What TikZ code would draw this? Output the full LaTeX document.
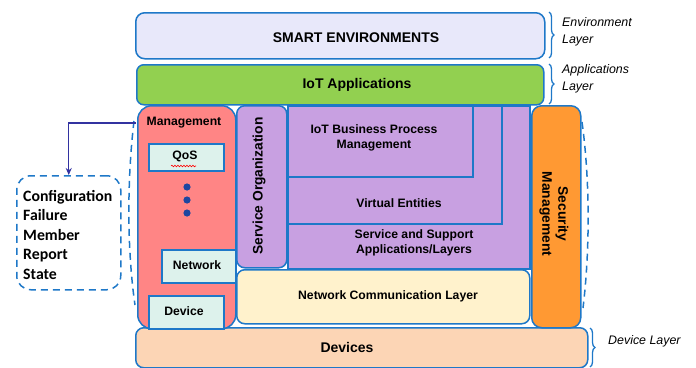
\documentclass[tikz,border=0pt]{standalone}
\usepackage{fontspec}
\setmainfont{Liberation Sans}
\newfontfamily\calfont{Carlito}
\usetikzlibrary{decorations.pathreplacing,decorations.pathmorphing,arrows.meta}
\definecolor{bl}{RGB}{30,120,200}
\definecolor{lav}{RGB}{232,232,250}
\definecolor{grn}{RGB}{146,208,80}
\definecolor{sal}{RGB}{255,133,133}
\definecolor{mint}{RGB}{221,242,236}
\definecolor{pur}{RGB}{200,160,225}
\definecolor{ylw}{RGB}{255,242,204}
\definecolor{org}{RGB}{255,153,51}
\definecolor{pch}{RGB}{252,213,181}
\definecolor{dotc}{RGB}{30,70,160}
\definecolor{arrc}{RGB}{50,50,160}
\begin{document}
\begin{tikzpicture}[x=1pt,y=1pt,
  box/.style={draw=bl, line width=1.5pt, inner sep=0pt, anchor=north west},
  lbl/.style={font=\bfseries\fontsize{12.2}{14.5}\selectfont, align=center, inner sep=0pt, text=black},
  rlbl/.style={font=\bfseries\fontsize{13.8}{16}\selectfont, align=center, inner sep=0pt, text=black},
  big/.style={font=\bfseries\fontsize{14}{16}\selectfont, inner sep=0pt},
  lay/.style={font=\itshape\fontsize{12.4}{16.5}\selectfont, align=left, inner sep=0pt, anchor=west},
  brc/.style={draw=bl, line width=1.3pt, decorate, decoration={brace, amplitude=5pt}},
  dsh/.style={draw=bl, line width=1.5pt, dash pattern=on 7pt off 5pt},
  arr/.style={draw=arrc, line width=1.3pt, -{Stealth[length=7pt,width=6pt]}}]
\useasboundingbox (0,0) rectangle (696,-367);
% top layers
\node[box, fill=lav, rounded corners=9pt, minimum width=409pt, minimum height=46pt] (se) at (135,-12) {};
\node[big] (setxt) at (356,-38) {SMART ENVIRONMENTS};
\node[box, fill=grn, rounded corners=7pt, minimum width=407pt, minimum height=40pt] (app) at (136,-64) {};
\node[big] (apptxt) at (357,-85) {IoT Applications};
% devices
\node[box, fill=pch, rounded corners=8pt, minimum width=452pt, minimum height=40pt] (devs) at (135,-327) {};
\node[big] (devstxt) at (347,-347) {Devices};
% management column
\node[box, fill=sal, rounded corners=14pt, minimum width=98pt, minimum height=223pt] (mgmt) at (137,-105) {};
\node[lbl] (mgmttxt) at (184,-123) {Management};
\node[box, fill=mint, minimum width=75pt, minimum height=27pt] (qos) at (148,-143) {};
\node[lbl] (qostxt) at (185,-156) {QoS};
\draw[red, line width=0.6pt, decorate, decoration={snake, amplitude=0.8pt, segment length=3pt}] (171,-166) -- (196,-166);
\fill[dotc] (187,-187) circle (3.6pt);
\fill[dotc] (187,-200) circle (3.6pt);
\fill[dotc] (187,-213) circle (3.6pt);
\node[box, fill=mint, minimum width=74pt, minimum height=33pt] (net) at (161,-249) {};
\node[lbl] (nettxt) at (197,-265) {Network};
\node[box, fill=mint, minimum width=75pt, minimum height=33pt] (dev) at (148,-295) {};
\node[lbl] (devtxt) at (184,-311) {Device};
% service organization
\node[box, fill=pur, rounded corners=8pt, minimum width=50pt, minimum height=162pt] (so) at (236,-105) {};
\node[rlbl, rotate=90] (sotxt) at (259,-186) {Service Organization};
% nested purple boxes
\node[box, fill=pur, minimum width=242pt, minimum height=163pt] (ssa) at (287,-105) {};
\node[box, fill=pur, minimum width=214pt, minimum height=118pt] (ve) at (287,-105) {};
\node[box, fill=pur, minimum width=185pt, minimum height=71pt] (ibp) at (287,-105) {};
\node[lbl] (ibptxt) at (374,-138) {IoT Business Process\\Management};
\node[lbl] (vetxt) at (399,-203) {Virtual Entities};
\node[lbl] (ssatxt) at (414,-243) {Service and Support\\Applications/Layers};
% network communication layer
\node[box, fill=ylw, rounded corners=8pt, minimum width=293pt, minimum height=54pt] (ncl) at (236,-269) {};
\node[lbl] (ncltxt) at (388,-296) {Network Communication Layer};
% security
\node[box, fill=org, rounded corners=10pt, minimum width=49pt, minimum height=222pt] (sec) at (531,-105) {};
\node[rlbl, rotate=-90] (sectxt) at (554,-214) {Security\\Management};
% dashed parentheses
\draw[dsh] (134,-121) .. controls (127,-180) and (127,-250) .. (135,-305);
\draw[dsh] (582,-122) .. controls (590,-180) and (590,-250) .. (583,-308);
% list box
\node[box, dsh, rounded corners=14pt, minimum width=104pt, minimum height=114pt] (lst) at (16,-175) {};
\node[font=\calfont\bfseries\fontsize{15.8}{19.5}\selectfont, align=left, anchor=north west, inner sep=0pt] (lsttxt) at (23,-190) {Configuration\\Failure\\Member\\Report\\State};
\coordinate (astart) at (136,-123);
\draw[arr] (astart) -| (lst.north);
% braces and layer labels
\draw[brc] (549,-12) -- (549,-58);
\draw[brc] (549,-64) -- (549,-104);
\draw[brc] (590,-328) -- (590,-367);
\node[lay] (envl) at (562,-32) {Environment\\Layer};
\node[lay] (appl) at (562,-79) {Applications\\Layer};
\node[lay] (devl) at (608,-341) {Device Layer};
\end{tikzpicture}
\end{document}
